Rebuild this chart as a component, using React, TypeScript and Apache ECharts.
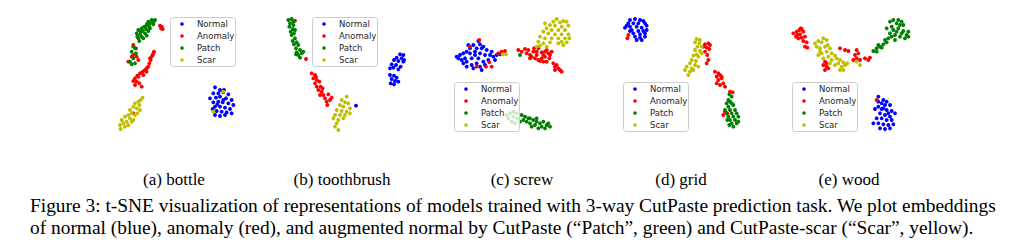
import React, { useEffect, useRef } from "react";
import * as echarts from "echarts";

const classNames = ["Normal", "Anomaly", "Patch", "Scar"];
const subCaptions = ["(a) bottle", "(b) toothbrush", "(c) screw", "(d) grid", "(e) wood"];
const captionLine1 =
  "Figure 3: t-SNE visualization of representations of models trained with 3-way CutPaste prediction task. We plot embeddings";
const captionLine2 =
  "of normal (blue), anomaly (red), and augmented normal by CutPaste (\u201cPatch\u201d, green) and CutPaste-scar (\u201cScar\u201d, yellow).";

// (a) bottle
const bottleNormal = [[120,-43],[135,-51],[147,-51],[115,-61],[130,-61],[145,-58],[160,-64],[105,-76],[123,-74],[135,-71],[153,-76],[170,-81],[115,-88],[130,-86],[143,-88],[160,-91],[175,-96],[120,-101],[135,-101],[150,-104],[165,-108],[125,-114],[140,-116],[155,-118],[170,-121],[120,-126],[135,-129],[150,-126],[113,-108],[127,-94],[145,-81]];
const bottleAnomaly = [[-45,142],[-40,139],[-37,132],[-42,134],[-140,34],[-125,54],[-115,49],[-110,39],[-130,49],[-117,74],[-125,84],[-65,59],[-70,49],[-73,39],[-77,29],[-80,19],[-85,14],[-90,9],[-97,4],[-105,-1],[-95,-6],[-113,-8],[-120,-16],[-115,-26],[-107,-31],[-120,-36],[-100,-41],[-125,-24],[-85,4],[-75,44],[-67,54],[-63,64],[-110,-11],[-125,-121]];
const bottlePatch = [[-70,159],[-63,156],[-80,154],[-75,149],[-65,146],[-85,144],[-92,139],[-77,139],[-100,134],[-87,132],[-110,129],[-97,126],[-80,126],[-115,119],[-105,116],[-90,119],[-100,109],[-110,104],[-95,104],[-107,96],[-85,112],[-113,109],[-103,124],[-75,134],[-67,152],[-60,159],[-83,149],[-125,79],[-120,74],[-130,64],[-117,59],[-125,44],[-135,34],[-120,29],[-130,26]];
const bottleScar = [[-97,-74],[-103,-81],[-110,-86],[-120,-91],[-107,-96],[-125,-101],[-115,-106],[-105,-111],[-135,-111],[-130,-121],[-140,-126],[-120,-126],[-150,-131],[-135,-136],[-160,-141],[-145,-146],[-155,-151],[-130,-146],[-165,-156],[-150,-161],[-163,-168],[-140,-156],[-125,-141],[-113,-121],[145,-56],[115,-116]];

// (b) toothbrush
const toothbrushNormal = [[165,56],[175,54],[155,46],[170,44],[147,39],[160,36],[175,34],[140,26],[153,24],[167,19],[145,16],[160,11],[135,-6],[147,-8],[155,-14],[140,-18],[150,-24],[137,-31],[147,-34],[160,-26],[177,39],[135,14],[33,-98]];
const toothbrushAnomaly = [[-150,157],[-117,42],[-100,-1],[-90,-6],[-95,-16],[-85,-21],[-90,-31],[-77,-26],[-85,-41],[-73,-41],[-80,-51],[-70,-56],[-75,-66],[-65,-66],[-50,-64],[-60,-76],[-45,-81],[-55,-86],[-53,-96],[-67,-46],[-87,-11],[-40,-74]];
const toothbrushPatch = [[-170,159],[-160,162],[-165,149],[-155,144],[-167,139],[-157,132],[-163,124],[-153,119],[-160,114],[-150,104],[-157,96],[-145,92],[-153,86],[-140,84],[-147,74],[-135,69],[-145,62],[-130,59],[-140,54],[-125,64],[-135,46],[-147,56],[-155,154],[-150,129]];
const toothbrushScar = [[5,-71],[-10,-81],[0,-88],[10,-91],[-15,-96],[-5,-101],[15,-106],[-25,-111],[-10,-114],[5,-116],[-30,-126],[-15,-126],[0,-126],[15,-121],[-35,-136],[-20,-141],[-25,-151],[-30,-161],[-20,-171],[-5,-136]];

// (c) screw
const screwNormal = [[-145,49],[-135,54],[-125,59],[-115,64],[-105,74],[-95,84],[-80,96],[-75,86],[-85,74],[-70,74],[-65,79],[-120,44],[-130,39],[-115,34],[-100,44],[-90,54],[-75,59],[-60,54],[-45,54],[-35,49],[-25,54],[-15,56],[-50,39],[-65,34],[-85,29],[-100,24],[-115,19],[-95,14],[-75,19],[-60,24],[-140,44],[-105,59],[-125,29],[-80,44],[-40,64],[-30,39],[-110,84],[-90,64],[-55,69],[-70,9]];
const screwAnomaly = [[-77,99],[-85,19],[-57,19],[-40,19],[-105,79],[0,66],[-10,64],[-20,59],[-47,32],[40,69],[50,64],[60,72],[65,59],[75,54],[70,69],[85,64],[80,49],[90,44],[95,54],[100,39],[110,44],[115,54],[120,64],[125,69],[130,59],[135,54],[133,44],[115,34],[105,36],[125,34],[87,74],[100,74],[145,29],[150,19],[155,24],[160,14],[165,9],[170,4],[150,9],[95,64],[75,44],[120,49],[140,64],[110,62]];
const screwPatch = [[45,54],[5,-126],[15,-121],[25,-116],[35,-121],[10,-136],[25,-131],[37,-136],[20,-146],[30,-151],[50,-126],[60,-131],[55,-141],[65,-146],[70,-136],[75,-151],[85,-141],[95,-146],[90,-156],[105,-151],[115,-146],[125,-156],[120,-166],[130,-151],[110,-161],[80,-161],[100,-166],[135,-161],[45,-146],[75,-136],[95,-136]];
const screwScar = [[-7,56],[3,56],[155,162],[145,154],[165,152],[175,156],[185,154],[135,144],[150,142],[170,139],[190,142],[125,134],[140,129],[160,129],[180,129],[115,124],[130,119],[150,116],[170,116],[190,116],[105,109],[120,104],[140,104],[160,104],[180,104],[193,104],[100,94],[115,89],[135,92],[170,94],[185,92],[95,79],[105,82],[125,79],[175,84],[160,89],[120,149]];

// (d) grid
const gridNormal = [[-135,159],[-120,162],[-105,159],[-95,156],[-140,149],[-125,149],[-110,149],[-90,149],[-150,136],[-135,139],[-115,139],[-100,136],[-85,142],[-130,129],[-110,126],[-95,126],[-125,119],[-105,116],[-90,119],[-120,109],[-105,106],[-90,109],[-115,99],[-100,99],[-135,126],[-145,142],[-85,129]];
const gridAnomaly = [[-140,114],[-143,104],[90,86],[100,89],[105,84],[85,79],[95,76],[103,72],[90,64],[97,54],[100,39],[95,29],[120,4],[130,-1],[125,-11],[135,-6],[140,-16],[130,-21],[125,-31],[135,-36],[145,-31],[150,-41],[140,-11],[165,-56],[173,-58],[150,-116],[145,-126],[157,-121]];
const gridPatch = [[163,-64],[170,-71],[160,-81],[165,-86],[155,-91],[170,-91],[160,-101],[175,-96],[150,-111],[165,-111],[180,-111],[155,-121],[170,-121],[185,-121],[160,-131],[175,-131],[190,-131],[165,-141],[180,-141],[170,-151],[185,-151],[175,-161],[163,-156],[190,-146],[157,-141]];
const gridScar = [[65,102],[75,99],[60,92],[73,89],[67,79],[80,79],[60,69],[75,66],[65,56],[55,52],[70,49],[50,39],[63,36],[45,29],[60,24],[35,19],[50,14],[30,9],[45,4],[40,-6],[55,9],[80,59],[70,19]];

// (e) wood
const woodNormal = [[100,-71],[115,-81],[125,-86],[110,-91],[135,-96],[120,-96],[100,-101],[90,-108],[110,-108],[125,-111],[140,-114],[150,-121],[105,-121],[120,-126],[135,-131],[95,-136],[110,-136],[125,-141],[140,-141],[85,-151],[100,-151],[115,-154],[130,-156],[145,-154],[105,-166],[120,-168],[135,-166],[115,-106],[130,-121],[100,-86]];
const woodAnomaly = [[-155,119],[-145,124],[-137,129],[-130,132],[-125,124],[-135,116],[-147,109],[-140,104],[-130,106],[-120,109],[-125,96],[-115,92],[-120,79],[-113,76],[-133,134],[-143,114],[-15,74],[0,69],[10,66],[-60,34],[-65,24],[-55,19],[-60,9],[-50,14],[35,69],[40,59],[30,54],[35,44],[25,39],[45,39],[60,44],[70,39],[75,46],[-55,29],[95,-81]];
const woodPatch = [[85,66],[95,74],[105,79],[100,84],[115,86],[110,76],[125,92],[130,104],[140,109],[135,119],[150,114],[145,129],[155,124],[160,134],[165,109],[170,119],[175,126],[185,114],[190,124],[180,104],[165,144],[155,149],[170,154],[135,154],[145,159],[160,159],[175,144],[190,109],[150,99],[125,134],[140,139],[95,64],[120,99]];
const woodScar = [[-90,89],[-80,96],[-65,104],[-55,99],[-70,92],[-85,79],[-75,74],[-60,79],[-45,74],[-55,64],[-40,59],[-70,59],[-80,54],[-30,52],[-50,49],[-65,44],[-40,39],[-25,44],[-15,39],[-5,32],[-20,29],[-10,19],[0,24],[7,29],[-30,24],[-15,9],[-5,9],[-45,29],[35,34],[45,24],[-75,64],[-52,84]];

export default function App() {
  const ref = useRef<HTMLDivElement>(null);
  useEffect(() => {
    if (!ref.current) return;
    const chart = echarts.init(ref.current, null, { renderer: "svg" });
    const panels = [
      [bottleNormal, bottleAnomaly, bottlePatch, bottleScar],
      [toothbrushNormal, toothbrushAnomaly, toothbrushPatch, toothbrushScar],
      [screwNormal, screwAnomaly, screwPatch, screwScar],
      [gridNormal, gridAnomaly, gridPatch, gridScar],
      [woodNormal, woodAnomaly, woodPatch, woodScar],
    ];
    const gridLefts = [110, 280, 440, 610, 780];
    const legendPos = [
      [170, 17],
      [312, 17],
      [454, 82],
      [623, 82],
      [792, 82],
    ];
    const captionX = [174, 342, 522, 681, 849];
    const colors = ["#0000ff", "#ff0000", "#008000", "#bfbf00"];

    const grids = gridLefts.map((l) => ({ left: l, top: 8, width: 130, height: 130 }));
    const xAxes = gridLefts.map((_, i) => ({ type: "value", gridIndex: i, min: -195, max: 195, show: false }));
    const yAxes = gridLefts.map((_, i) => ({ type: "value", gridIndex: i, min: -195, max: 195, show: false }));
    const series: any[] = [];
    panels.forEach((p, i) => {
      p.forEach((d, c) => {
        series.push({
          type: "scatter",
          name: classNames[c],
          xAxisIndex: i,
          yAxisIndex: i,
          data: d,
          symbolSize: 3.9,
          itemStyle: { color: colors[c], opacity: 1 },
          silent: true,
          z: 2 + c * 0.01,
        });
      });
    });

    const graphics: any[] = [];
    // legends (matplotlib style: semi-transparent white frame)
    legendPos.forEach(([l, t]) => {
      graphics.push({
        type: "rect",
        z: 100,
        shape: { x: l + 0.5, y: t + 0.5, width: 65, height: 49, r: 3 },
        style: { fill: "rgba(255,255,255,0.8)", stroke: "#cccccc", lineWidth: 1 },
      });
      classNames.forEach((name, k) => {
        graphics.push({
          type: "circle",
          z: 101,
          shape: { cx: l + 12, cy: t + 7 + 12 * k, r: 1.8 },
          style: { fill: colors[k] },
        });
        graphics.push({
          type: "text",
          z: 101,
          x: l + 27,
          y: t + 7 + 12 * k,
          style: {
            text: name,
            fontFamily: "DejaVu Sans",
            fontSize: 8.5,
            fill: "#262626",
            align: "left",
            verticalAlign: "middle",
          },
        });
      });
    });

    subCaptions.forEach((t, i) => {
      graphics.push({
        type: "text",
        x: captionX[i],
        y: 179,
        style: { text: t, fontFamily: "Liberation Serif", fontSize: 17, fill: "#000", align: "center", verticalAlign: "middle" },
      });
    });
    graphics.push({
      type: "text",
      x: 30,
      y: 205,
      style: { text: captionLine1, fontFamily: "Liberation Serif", fontSize: 19.4, fill: "#000", align: "left", verticalAlign: "middle" },
    });
    graphics.push({
      type: "text",
      x: 30,
      y: 227,
      style: { text: captionLine2, fontFamily: "Liberation Serif", fontSize: 19.4, fill: "#000", align: "left", verticalAlign: "middle" },
    });

    chart.setOption({
      animation: false,
      backgroundColor: "#ffffff",
      grid: grids,
      xAxis: xAxes,
      yAxis: yAxes,
      series,
      graphic: graphics,
    });
    return () => chart.dispose();
  }, []);
  return (
    <div
      ref={ref}
      style={{ position: "fixed", left: 0, top: 0, width: 1024, height: 250, background: "#fff" }}
    />
  );
}
